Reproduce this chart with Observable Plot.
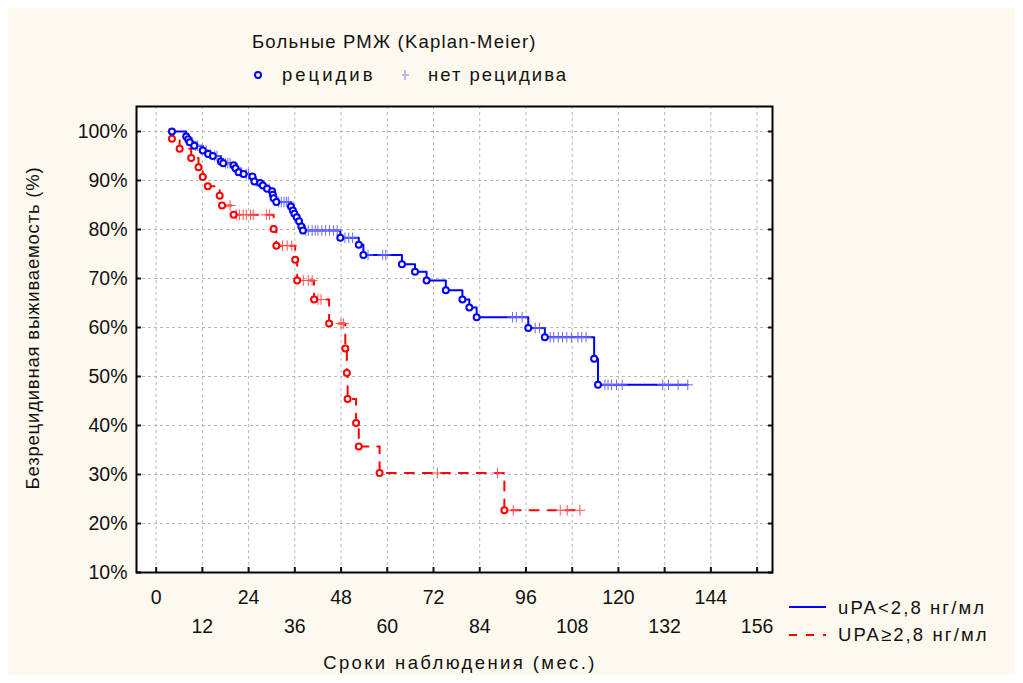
<!DOCTYPE html>
<html><head><meta charset="utf-8">
<script src="https://cdn.jsdelivr.net/npm/d3@7"></script>
<script src="https://cdn.jsdelivr.net/npm/@observablehq/plot@0.6"></script>
<style>
body{margin:0;background:#fff;font-family:"Liberation Sans",Arial,sans-serif;}
#wrap{position:relative;width:1023px;height:683px;}
#bg{position:absolute;left:8px;top:8px;width:1007px;height:667px;background:#fef9ef;}
#chart{position:absolute;left:0;top:0;}
.t{position:absolute;font-size:18.5px;color:#111;white-space:nowrap;}
#over{position:absolute;left:0;top:0;}
</style></head>
<body><div id="wrap"><div id="bg"></div><div id="chart"></div>
<div class="t" style="left:252px;top:31px;letter-spacing:1.2px;">Больные РМЖ (Kaplan-Meier)</div>
<div class="t" style="left:282px;top:64px;letter-spacing:3px;">рецидив</div>
<div class="t" style="left:428px;top:64px;letter-spacing:2px;">нет рецидива</div>
<div class="t" style="left:838px;top:597px;letter-spacing:2.1px;">uPA&lt;2,8 нг/мл</div>
<div class="t" style="left:838px;top:624px;letter-spacing:2.1px;">UPA≥2,8 нг/мл</div>
<div class="t" style="left:460px;top:663px;transform:translate(-50%,-50%);letter-spacing:2.4px;">Сроки наблюдения (мес.)</div>
<div class="t" style="left:33px;top:328px;transform:translate(-50%,-50%) rotate(-90deg);letter-spacing:0.8px;">Безрецидивная выживаемость (%)</div>
<svg id="over" width="1023" height="683">
<circle cx="258" cy="75" r="3" fill="#fff" stroke="#0000ff" stroke-width="2"/>
<path d="M405,70V80M402,75H404M406,75H409" stroke="#7777ff" stroke-width="1" fill="none"/>
<line x1="789" y1="607" x2="826" y2="607" stroke="#0000ff" stroke-width="2"/>
<line x1="789" y1="635" x2="826" y2="635" stroke="#ff0000" stroke-width="2" stroke-dasharray="8,9"/>
</svg>
</div>
<script>
// Blue: uPA<2,8 — events [month, %]
const blueStart = [3.7, 100];
const blueEventT = [4.1,7.8,8.3,8.7,9.9,12.1,13.5,14.7,16.8,17.4,20.1,20.6,21.4,22.7,25.0,25.5,27.0,27.7,28.8,30.1,30.3,30.5,31.2,35.0,35.5,35.9,36.5,37.1,37.7,38.1,47.8,52.6,53.8,63.8,67.2,70.2,75.2,79.5,81.3,83.2,96.6,100.9,113.7,114.7];
const blueEventS = [100,99.0,98.4,97.8,97.1,96.1,95.4,95.0,93.9,93.5,93.1,92.5,91.7,91.3,90.8,89.8,89.5,89.0,88.3,87.8,87.1,86.4,85.6,84.7,83.9,83.2,82.5,81.7,80.6,79.8,78.3,76.9,74.8,72.9,71.4,69.6,67.6,65.7,64.1,62.1,59.9,58.0,53.6,48.3];
const blueCensT = [8.9,9.5,10.3,10.8,13.0,14.0,15.2,15.8,18.0,18.6,19.2,21.0,22.0,23.4,24.0,26.0,28.0,29.3,31.8,32.5,33.2,33.8,34.3,38.8,39.5,40.5,41.3,42.0,43.0,44.0,45.0,46.0,47.0,49.0,50.0,51.0,55.0,58.8,59.6,92.5,93.5,95.0,98.4,99.5,102.3,103.2,104.4,105.5,106.6,107.8,109.5,110.5,111.6,116.5,117.3,118.2,119.5,121.0,131.5,133.0,135.5,138.0];
// Red: UPA>=2,8
const redStart = [3.7, 100];
const redEventT = [4.1,6.1,9.1,11.0,12.1,13.4,16.5,17.1,20.1,30.5,31.2,36.1,36.6,41.0,44.9,49.1,49.5,49.7,51.9,52.6,58.0,90.4];
const redEventS = [98.5,96.5,94.6,92.7,90.7,88.8,86.9,84.9,83.0,80.1,76.7,73.8,69.6,65.7,60.8,55.7,50.7,45.4,40.5,35.7,30.3,22.7];
const redCensT = [19.2,20.8,21.6,22.6,23.4,24.5,25.2,28.6,29.4,32.8,34.0,35.2,38.2,39.5,40.5,42.0,42.8,48.0,48.6,73.0,88.6,92.7,104.9,106.7,110.0];

const xTicksA = [0,24,48,72,96,120,144];
const xTicksB = [12,36,60,84,108,132,156];
const yTicks = [10,20,30,40,50,60,70,80,90,100];

function build(start, et, es, ct){
  const ev = et.map((t,i)=>({t, s: es[i]}));
  const lvl = t => { let s = start[1]; for (const e of ev) if (e.t <= t) s = e.s; return s; };
  const cens = ct.map(t=>({t, s: lvl(t)}));
  const last = ct[ct.length-1];
  const line = [{t:start[0], s:start[1]}, ...ev, {t:last, s:lvl(last)}];
  return {ev, cens, line};
}
const B = build(blueStart, blueEventT, blueEventS, blueCensT);
const R = build(redStart, redEventT, redEventS, redCensT);

const grid = {stroke:"#b8b8b8", strokeOpacity:1, strokeDasharray:"3,3"};
const chart = Plot.plot({
  width:1023, height:683,
  marginLeft:136, marginRight:251, marginTop:106, marginBottom:111,
  style:{background:"transparent", fontFamily:"Liberation Sans, Arial, sans-serif", fontSize:"19px", color:"#111"},
  x:{domain:[-5.1,160]},
  y:{domain:[10,105.1]},
  marks:[
    Plot.frame({fill:"white", stroke:null}),
    Plot.gridX([...xTicksA,...xTicksB], grid),
    Plot.gridY(yTicks, grid),
    Plot.line(R.line, {x:"t", y:"s", curve:"step-after", stroke:"#ff0000", strokeWidth:2, strokeDasharray:"9,9"}),
    Plot.line(B.line, {x:"t", y:"s", curve:"step-after", stroke:"#0000ff", strokeWidth:2}),
    Plot.dot(R.cens, {x:"t", y:"s", symbol:"plus", r:3.5, stroke:"#ff5050", strokeWidth:1}),
    Plot.dot(B.cens, {x:"t", y:"s", symbol:"plus", r:3.5, stroke:"#6a6aff", strokeWidth:1}),
    Plot.dot(R.ev, {x:"t", y:"s", r:3, fill:"white", stroke:"#ff0000", strokeWidth:2}),
    Plot.dot(B.ev, {x:"t", y:"s", r:3, fill:"white", stroke:"#0000ff", strokeWidth:2}),
    Plot.axisX(xTicksA, {label:null, tickSize:0, tickPadding:18, fontSize:19.5}),
    Plot.axisX(xTicksB, {label:null, tickSize:0, tickPadding:47, fontSize:19.5}),
    Plot.axisX([...xTicksA,...xTicksB], {label:null, text:null, tickSize:-5, strokeWidth:2}),
    Plot.axisY(yTicks, {label:null, tickSize:0, tickPadding:9, fontSize:19.5, tickFormat:d=>d+"%"}),
    Plot.axisY(yTicks, {label:null, text:null, tickSize:-5, strokeWidth:2}),
    Plot.axisY(yTicks, {anchor:"right", label:null, text:null, tickSize:-5, strokeWidth:2}),
    Plot.frame({stroke:"#000", strokeWidth:2})
  ]
});
document.getElementById("chart").appendChild(chart);
</script>
</body></html>
